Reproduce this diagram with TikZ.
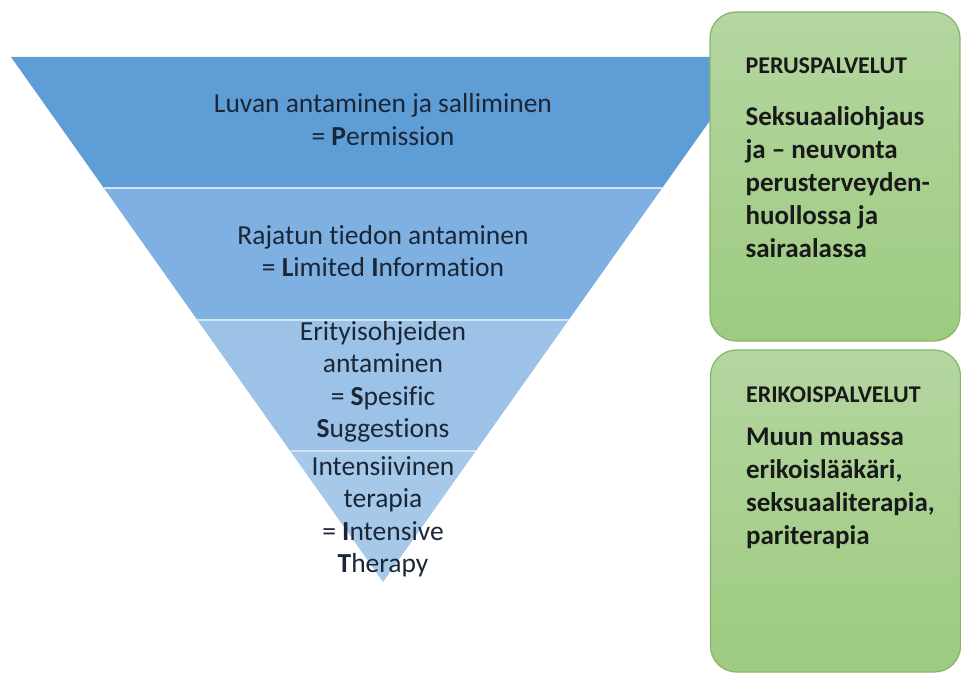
\documentclass[tikz,border=0pt]{standalone}
\usepackage{fontspec}
\setmainfont{Carlito}[Ligatures=NoCommon]
\usepackage{xcolor}
\usepackage{tikz}
\usetikzlibrary{calc,positioning}
\definecolor{bandA}{HTML}{5F9DD6}
\definecolor{bandB}{HTML}{7EB1E1}
\definecolor{bandC}{HTML}{9CC2E7}
\definecolor{bandD}{HTML}{A6C9EA}
\definecolor{sepline}{HTML}{D2E4F4}
\definecolor{navytext}{HTML}{1B2636}
\definecolor{greentop}{HTML}{B4D6A0}
\definecolor{greenbot}{HTML}{9DCB80}
\definecolor{greenedge}{HTML}{86B56A}
\tikzset{
  sep/.style      = {draw=sepline, line width=2pt},
  bandtext/.style = {align=center, inner sep=0pt, text=navytext, font=\fontsize{27.5}{32.5}\selectfont},
  greenbox/.style = {draw=greenedge, line width=1.2pt, rounded corners=26pt, top color=greentop, bottom color=greenbot,
                     minimum width=250pt, inner sep=0pt},
  boxhead/.style  = {anchor=north west, inner sep=0pt, text=black!90, font=\bfseries\fontsize{24}{28}\selectfont},
  boxbody/.style  = {anchor=north west, align=left, inner sep=0pt, text=black!90, font=\bfseries\fontsize{27}{33}\selectfont},
}

\begin{document}
\begin{tikzpicture}[x=1pt,y=-1pt]
  \useasboundingbox (0,0) rectangle (961,676);
  \coordinate (tl) at (11,57);
  \coordinate (tr) at (755,57);
  \coordinate (apex) at (383,582);
  \coordinate (l1) at ($(tl)!0.25!(apex)$);
  \coordinate (r1) at ($(tr)!0.25!(apex)$);
  \coordinate (l2) at ($(tl)!0.5!(apex)$);
  \coordinate (r2) at ($(tr)!0.5!(apex)$);
  \coordinate (l3) at ($(tl)!0.75!(apex)$);
  \coordinate (r3) at ($(tr)!0.75!(apex)$);
  % inverted pyramid
  \fill[bandA] (tl) -- (tr) -- (r1) -- (l1) -- cycle;
  \fill[bandB] (l1) -- (r1) -- (r2) -- (l2) -- cycle;
  \fill[bandC] (l2) -- (r2) -- (r3) -- (l3) -- cycle;
  \fill[bandD] (l3) -- (r3) -- (apex) -- cycle;
  \draw[sep] (l1) -- (r1);
  \draw[sep] (l2) -- (r2);
  \draw[sep] (l3) -- (r3);
  \node[bandtext] (permission) at (383,119.5) {Luvan antaminen ja salliminen\\= \textbf{P}ermission};
  \node[bandtext] (limited) at (383,251) {Rajatun tiedon antaminen\\= \textbf{L}imited \textbf{I}nformation};
  \node[bandtext] (specific) at (383,382) {Erityisohjeiden\\antaminen\\= \textbf{S}pesific\\\textbf{S}uggestions};
  \node[bandtext] (intensive) at (383,517) {Intensiivinen\\terapia\\= \textbf{I}ntensive\\\textbf{T}herapy};
  % service boxes
  \node[greenbox, minimum height=329pt] (basic) at (835,176.5) {};
  \node[greenbox, minimum height=322pt] (special) at (835.5,511) {};
  \node[boxhead] (basichead) at ([xshift=36pt,yshift=-46pt]basic.north west) {PERUSPALVELUT};
  \node[boxbody] (basicbody) at ([xshift=36pt,yshift=-95pt]basic.north west)
    {Seksuaaliohjaus\\ja – neuvonta\\perusterveyden-\\huollossa ja\\sairaalassa};
  \node[boxhead] (specialhead) at ([xshift=36pt,yshift=-37pt]special.north west) {ERIKOISPALVELUT};
  \node[boxbody] (specialbody) at ([xshift=36pt,yshift=-78pt]special.north west)
    {Muun muassa\\erikoislääkäri,\\seksuaaliterapia,\\pariterapia};
\end{tikzpicture}
\end{document}
